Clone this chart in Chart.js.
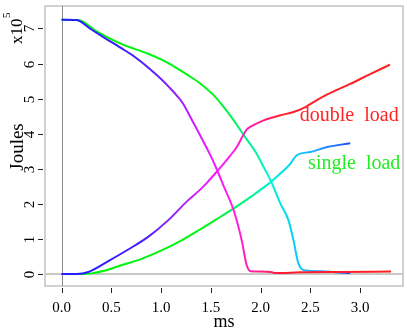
<!DOCTYPE html>
<html>
<head>
<meta charset="utf-8">
<script src="https://cdn.jsdelivr.net/npm/chart.js@4.4.1/dist/chart.umd.min.js"></script>
<style>
  html, body { margin: 0; padding: 0; background: #fff; }
</style>
</head>
<body>
<canvas id="energyChart" width="407" height="329"></canvas>
<script>
// stored energy in units of 10^5 J, time in ms
const doubleFallTime = [0, 0.15, 0.3, 0.44, 0.6, 0.74, 0.89, 1.0, 1.09, 1.16, 1.22, 1.29, 1.36, 1.43, 1.5, 1.56, 1.63, 1.73, 1.81, 1.86, 1.9, 2.0, 2.1, 2.15, 2.4, 2.8, 3.31];
const doubleFallEnergy = [7.25, 7.24, 6.97, 6.72, 6.44, 6.18, 5.84, 5.56, 5.3, 5.08, 4.86, 4.5, 4.13, 3.75, 3.36, 2.98, 2.5, 1.81, 0.96, 0.25, 0.08, 0.07, 0.06, 0.03, 0.05, 0.06, 0.07];

const doubleRiseTime = [0, 0.15, 0.27, 0.47, 0.67, 0.87, 1.07, 1.27, 1.39, 1.46, 1.56, 1.65, 1.73, 1.76, 1.86, 1.9, 2.03, 2.13, 2.19, 2.33, 2.45, 2.56, 2.67, 2.9, 3.1, 3.3];
const doubleRiseEnergy = [0, 0, 0.06, 0.37, 0.7, 1.06, 1.53, 2.1, 2.4, 2.6, 2.92, 3.22, 3.5, 3.62, 4.12, 4.2, 4.38, 4.47, 4.52, 4.62, 4.76, 4.95, 5.12, 5.42, 5.7, 5.97];

const singleFallTime = [0, 0.17, 0.34, 0.6, 0.87, 1.02, 1.14, 1.27, 1.39, 1.52, 1.63, 1.73, 1.83, 1.96, 2.03, 2.1, 2.2, 2.28, 2.33, 2.38, 2.46, 2.6, 2.75, 2.9];
const singleFallEnergy = [7.25, 7.24, 6.94, 6.56, 6.28, 6.09, 5.9, 5.67, 5.44, 5.12, 4.76, 4.38, 3.96, 3.43, 3.05, 2.67, 2.0, 1.53, 0.96, 0.3, 0.1, 0.08, 0.05, 0.03];

const singleRiseTime = [0, 0.2, 0.3, 0.44, 0.6, 0.81, 1.01, 1.21, 1.39, 1.55, 1.73, 1.9, 2.1, 2.23, 2.3, 2.36, 2.5, 2.67, 2.9];
const singleRiseEnergy = [0, 0, 0.02, 0.1, 0.25, 0.44, 0.68, 0.97, 1.27, 1.55, 1.87, 2.2, 2.62, 2.95, 3.15, 3.38, 3.48, 3.62, 3.73];

const SERIF = "'Liberation Serif', 'Times New Roman', serif";

// hue along the time axis: [ms, hue]
const doubleHues = [[0, 240], [0.8, 250], [1.1, 268], [1.4, 292], [1.7, 305], [1.95, 325], [2.2, 355], [3.4, 360]];
const singleHues = [[0, 120], [1.5, 125], [1.75, 145], [1.95, 160], [2.1, 172], [2.3, 188], [2.5, 200], [2.7, 215], [2.9, 228], [3.4, 230]];

function points(ts, es) {
  return ts.map((t, i) => ({ x: t, y: es[i] }));
}

function hueGradient(chart, stops) {
  const { ctx, chartArea, scales } = chart;
  if (!chartArea || !scales.x) return `hsl(${stops[0][1]},100%,55%)`;
  const x0 = scales.x.getPixelForValue(0);
  const x1 = scales.x.getPixelForValue(3.4);
  const g = ctx.createLinearGradient(x0, 0, x1, 0);
  stops.forEach(([t, h]) => g.addColorStop(t / 3.4, `hsl(${h},100%,${h < 200 && h > 100 ? 48 : 56}%)`));
  return g;
}

function series(ts, es, hues) {
  return {
    data: points(ts, es),
    borderColor: c => hueGradient(c.chart, hues),
    borderWidth: 2,
    pointRadius: 0,
    cubicInterpolationMode: 'monotone',
    fill: false
  };
}

// box, zero lines, tick marks, rotated y labels and series names
const axesDecor = {
  id: 'axesDecor',
  beforeDatasetsDraw(chart) {
    const { ctx, chartArea: a, scales: { x, y } } = chart;
    ctx.save();
    ctx.strokeStyle = '#c2c2c2';
    ctx.lineWidth = 1.5;
    ctx.strokeRect(a.left, a.top, a.right - a.left, a.bottom - a.top);

    const y0 = y.getPixelForValue(0);
    ctx.strokeStyle = '#c8c8c8';
    ctx.lineWidth = 2;
    ctx.beginPath(); ctx.moveTo(a.left, y0); ctx.lineTo(a.right, y0); ctx.stroke();

    const x0 = Math.round(x.getPixelForValue(0)) + 0.5;
    ctx.strokeStyle = '#8a8a8a';
    ctx.lineWidth = 1;
    ctx.beginPath(); ctx.moveTo(x0, a.top); ctx.lineTo(x0, a.bottom); ctx.stroke();

    ctx.strokeStyle = '#222';
    ctx.lineWidth = 1;
    x.ticks.forEach(t => {
      const px = Math.round(x.getPixelForValue(t.value)) + 0.5;
      ctx.beginPath(); ctx.moveTo(px, a.bottom + 2); ctx.lineTo(px, a.bottom + 7); ctx.stroke();
    });
    ctx.fillStyle = '#000';
    ctx.font = `15px ${SERIF}`;
    ctx.textAlign = 'center';
    ctx.textBaseline = 'alphabetic';
    y.ticks.forEach(t => {
      const py = Math.round(y.getPixelForValue(t.value)) + 0.5;
      ctx.beginPath(); ctx.moveTo(a.left - 7, py); ctx.lineTo(a.left - 2, py); ctx.stroke();
      ctx.save();
      ctx.translate(34, py);
      ctx.rotate(-Math.PI / 2);
      ctx.fillText(String(t.value), 0, 0);
      ctx.restore();
    });

    // axis title and multiplier
    ctx.save();
    ctx.translate(23, 147);
    ctx.rotate(-Math.PI / 2);
    ctx.font = `19px ${SERIF}`;
    ctx.fillText('Joules', 0, 0);
    ctx.restore();

    ctx.save();
    ctx.translate(22, 44);
    ctx.rotate(-Math.PI / 2);
    ctx.textAlign = 'left';
    ctx.font = `17px ${SERIF}`;
    ctx.fillText('x10', 0, 0);
    const w = ctx.measureText('x10').width;
    ctx.font = `11px ${SERIF}`;
    ctx.fillText('5', w + 0.5, -12);
    ctx.restore();
    ctx.restore();
  },
  afterDatasetsDraw(chart) {
    const { ctx, scales: { x, y } } = chart;
    ctx.save();
    ctx.font = `20px ${SERIF}`;
    ctx.textAlign = 'center';
    ctx.textBaseline = 'middle';
    ctx.fillStyle = '#ff2424';
    ctx.fillText('double  load', x.getPixelForValue(2.89), y.getPixelForValue(4.5));
    ctx.fillStyle = '#22ee22';
    ctx.fillText('single  load', x.getPixelForValue(2.94), y.getPixelForValue(3.14));
    ctx.restore();
  }
};

new Chart(document.getElementById('energyChart').getContext('2d'), {
  type: 'line',
  data: {
    datasets: [
      series(doubleFallTime, doubleFallEnergy, doubleHues),
      series(doubleRiseTime, doubleRiseEnergy, doubleHues),
      series(singleFallTime, singleFallEnergy, singleHues),
      series(singleRiseTime, singleRiseEnergy, singleHues)
    ]
  },
  options: {
    responsive: false,
    animation: false,
    devicePixelRatio: 1,
    layout: { padding: { top: 6, right: 4, left: 0, bottom: 0 } },
    plugins: { legend: { display: false }, tooltip: { enabled: false } },
    scales: {
      x: {
        type: 'linear',
        min: -0.166,
        max: 3.43,
        grid: { display: false, drawTicks: false },
        border: { display: false },
        ticks: {
          stepSize: 0.5,
          includeBounds: false,
          autoSkip: false,
          maxRotation: 0,
          padding: 13,
          color: '#000',
          font: { family: SERIF, size: 15 },
          callback: v => v.toFixed(1)
        },
        title: {
          display: true,
          text: 'ms',
          color: '#000',
          padding: { top: 0, bottom: -2 },
          font: { family: SERIF, size: 18, lineHeight: 1 }
        },
        afterFit: s => { s.height = 43; }
      },
      y: {
        type: 'linear',
        min: -0.34,
        max: 7.64,
        grid: { display: false, drawTicks: false },
        border: { display: false },
        ticks: { display: false, stepSize: 1, includeBounds: false },
        afterFit: s => { s.width = 45; }
      }
    }
  },
  plugins: [axesDecor]
});
</script>
</body>
</html>
